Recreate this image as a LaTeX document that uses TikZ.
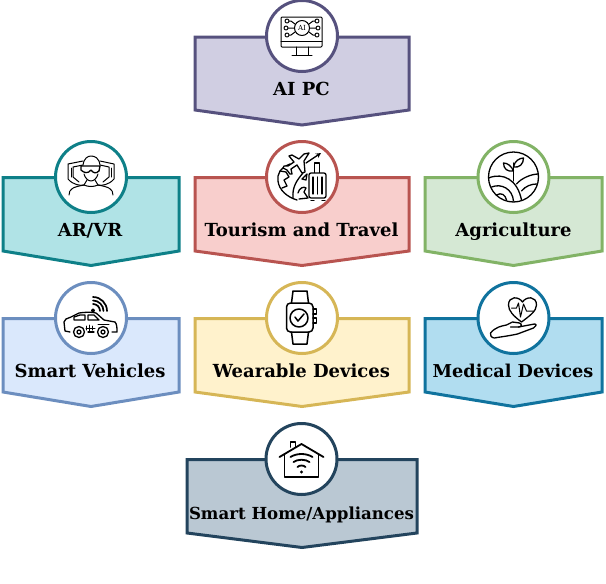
\documentclass[tikz,border=0pt]{standalone}
\usepackage{fontspec}
\setmainfont{DejaVu Serif}
\definecolor{aifill}{HTML}{D0CEE2}\definecolor{ailine}{HTML}{56517E}
\definecolor{arfill}{HTML}{B0E3E6}\definecolor{arline}{HTML}{0E8088}
\definecolor{tourfill}{HTML}{F8CECC}\definecolor{tourline}{HTML}{B85450}
\definecolor{agrifill}{HTML}{D5E8D4}\definecolor{agriline}{HTML}{82B366}
\definecolor{carfill}{HTML}{DAE8FC}\definecolor{carline}{HTML}{6C8EBF}
\definecolor{watchfill}{HTML}{FFF2CC}\definecolor{watchline}{HTML}{D6B656}
\definecolor{medfill}{HTML}{B1DDF0}\definecolor{medline}{HTML}{10739E}
\definecolor{homefill}{HTML}{BAC8D3}\definecolor{homeline}{HTML}{23445D}
\begin{document}
\begin{tikzpicture}[x=1pt, y=-1pt,
    panel/.style={line width=3pt, miter limit=4},
    badge/.style={circle, fill=white, line width=3pt, minimum size=71pt, inner sep=0pt},
    caption/.style={anchor=base, inner sep=0pt, font=\fontsize{18}{20}\selectfont\bfseries, text=black},
    icon/.style={line width=1.3pt, line join=round, line cap=round, black},
    thin icon/.style={line width=1pt, line join=round, line cap=round, black}]
    \useasboundingbox (0,0) rectangle (606,584);

    % --- Panels ---
    \draw[panel, fill=aifill, draw=ailine] (195,37) -- (409,37) -- (409,110) -- (302,125) -- (195,110) -- cycle;
    \draw[panel, fill=arfill, draw=arline] (3,177.5) -- (179,177.5) -- (179,251) -- (91,265.5) -- (3,251) -- cycle;
    \draw[panel, fill=tourfill, draw=tourline] (195,177.5) -- (409,177.5) -- (409,251) -- (302,265.5) -- (195,251) -- cycle;
    \draw[panel, fill=agrifill, draw=agriline] (425,177.5) -- (602,177.5) -- (602,251) -- (513.5,265.5) -- (425,251) -- cycle;
    \draw[panel, fill=carfill, draw=carline] (3,318.5) -- (179,318.5) -- (179,392) -- (91,406.5) -- (3,392) -- cycle;
    \draw[panel, fill=watchfill, draw=watchline] (195,318.5) -- (409,318.5) -- (409,392) -- (302,406.5) -- (195,392) -- cycle;
    \draw[panel, fill=medfill, draw=medline] (425,318.5) -- (602,318.5) -- (602,392) -- (513.5,406.5) -- (425,392) -- cycle;
    \draw[panel, fill=homefill, draw=homeline] (187,459.5) -- (417,459.5) -- (417,533) -- (302,547.5) -- (187,533) -- cycle;

    % --- Badges ---
    \node[badge, draw=ailine] (ai) at (302,36) {};
    \node[badge, draw=arline] (ar) at (91,177) {};
    \node[badge, draw=tourline] (tour) at (302,177) {};
    \node[badge, draw=agriline] (agri) at (513.5,177) {};
    \node[badge, draw=carline] (car) at (91,318) {};
    \node[badge, draw=watchline] (watch) at (302,318) {};
    \node[badge, draw=medline] (med) at (513.5,318) {};
    \node[badge, draw=homeline] (home) at (301.5,459) {};

    % --- Captions ---
    \node[caption] (ailabel) at (301.5,95) {AI PC};
    \node[caption] (arlabel) at (90,236) {AR/VR};
    \node[caption] (tourlabel) at (301.5,236) {Tourism and Travel};
    \node[caption] (agrilabel) at (513.5,236) {Agriculture};
    \node[caption] (carlabel) at (90,377) {Smart Vehicles};
    \node[caption] (watchlabel) at (301.5,377) {Wearable Devices};
    \node[caption, font=\fontsize{17.7}{20}\selectfont\bfseries] (medlabel) at (513,377) {Medical Devices};
    \node[caption, font=\fontsize{16.6}{20}\selectfont\bfseries] (homelabel) at (301.5,519) {Smart Home/Appliances};

    % --- AI PC icon ---
    \begin{scope}[shift={(302,36)}, thin icon]
        \draw[rounded corners=1pt] (-21,-19) rectangle (20,11);
        \draw (-21,5) -- (20,5);
        \draw (-6,11) -- (-6,19) (6,11) -- (6,19) (-10,19.5) -- (10,19.5);
        \draw (0,-8) circle (7.5);
        \node[inner sep=0pt, font=\fontsize{7}{7}\selectfont] (aitext) at (0,-8) {AI};
        \draw (-7,-12) -- (-11,-15) -- (-13,-15) (-7.5,-8) -- (-14,-8) (-7,-4) -- (-11,-1) -- (-13,-1);
        \draw (7,-12) -- (11,-15) -- (13,-15) (7.5,-8) -- (14,-8) (7,-4) -- (11,-1) -- (13,-1);
        \foreach \px/\py in {-15/-15, -16/-8, -15/-1, 15/-15, 16/-8, 15/-1}
            \draw (\px,\py) circle (2);
    \end{scope}

    % --- AR/VR icon ---
    \begin{scope}[shift={(91,177)}, thin icon]
        \draw (-8,-12) .. controls (-7,-19) and (-3,-21) .. (0,-21) .. controls (4,-21) and (8,-19) .. (9,-12);
        \draw[line width=1.3pt] (-10,-11) -- (9,-11) -- (8,-6) .. controls (5,-3) and (2,-4) .. (0,-7) .. controls (-3,-3) and (-7,-4) .. (-10,-7) -- cycle;
        \draw (-7,-3) .. controls (-6,1) and (-3,4) .. (0,4) .. controls (3,4) and (6,1) .. (7,-3);
        \draw (-8,-16) -- (-23,-13) -- (-23,2) .. controls (-18,8) and (-10,9) .. (-7,8);
        \draw (-8,-12) -- (-18,-10) -- (-18,0) -- (-12,5);
        \draw (9,-16) -- (23,-13) -- (23,2) .. controls (18,8) and (10,9) .. (7,8);
        \draw (9,-12) -- (18,-10) -- (18,0) -- (12,5);
        \draw (-20,-9) -- (-20,0) (20,-9) -- (20,0);
        \draw (-7,8) .. controls (-3,10) and (3,10) .. (7,8);
        \draw (-22,18) .. controls (-22,12) and (-18,10) .. (-7,8) (22,18) .. controls (22,12) and (18,10) .. (7,8);
        \draw (-4,3) -- (-7,8) (4,3) -- (7,8);
    \end{scope}

    % --- Tourism icon ---
    \begin{scope}[shift={(302,177)}, icon]
        \draw (-12,-13) .. controls (-22,-9) and (-25,-3) .. (-24,4) .. controls (-23,13) and (-15,20) .. (-5,23);
        \draw (1,-4) .. controls (-5,3) and (-10,10) .. (-9,21);
        \draw (-22,-6) -- (-16,-5) -- (-13,0) -- (-18,3) -- (-15,9) -- (-20,11);
        \draw (-4,16) .. controls (-3,11) and (2,9) .. (4,11) -- (2,15) -- (6,21) -- (-3,22);
        \draw (0,2) -- (5,-3) -- (4,3) -- cycle;
        \draw[fill=white] (7,-24) -- (2,-16) -- (3,-5) -- (0,-4) -- (-5,-12) -- (-11,-8) -- (-10,-3) -- (-12,-3) -- (-15,-7) -- (-19,-9) -- (-18,-11) -- (-14,-11) -- (-8,-15) -- (-13,-21) -- (-10,-22) -- (-3,-18) -- (2,-23) -- cycle;
        \draw[->, >=stealth] (4,-14) -- (19,-24);
        \draw (12.7,-4) -- (12.7,-14) -- (17.7,-14) -- (17.7,-4);
        \draw[rounded corners=2pt, fill=white] (7,-4) rectangle (24,21);
        \draw (11,0) -- (11,17) (15.5,0) -- (15.5,17) (20,0) -- (20,17);
        \draw (9,23.5) -- (12,23.5) (20,23.5) -- (23,23.5);
    \end{scope}

    % --- Agriculture icon ---
    \begin{scope}[shift={(513.5,177)}, icon]
        \draw (0,0) circle (25);
        \draw (0,4) -- (0,-14);
        \draw (0,-10) .. controls (1,-16) and (6,-19) .. (10,-19) .. controls (10,-13) and (6,-9) .. (0,-10);
        \draw (0,-6) .. controls (-2,-11) and (-6,-14) .. (-10,-14) .. controls (-10,-8) and (-6,-5) .. (0,-6);
        \draw (-25,1) .. controls (-10,-5) and (4,3) .. (8,23);
        \draw (-22,10) .. controls (-12,6) and (-1,12) .. (0,24);
        \draw (-17,18) .. controls (-12,15) and (-8,18) .. (-7,23);
        \draw (3,7) .. controls (8,1) and (18,-3) .. (25,-3);
        \draw (8,14) .. controls (12,9) and (18,7) .. (23,7);
    \end{scope}

    % --- Smart vehicles icon ---
    \begin{scope}[shift={(91,318)}, icon]
        \draw (-21,14) -- (-26,13) -- (-27,4) -- (-25,1) -- (-20,-1) -- (-12,-5) .. controls (-6,-6) and (2,-6) .. (5,-5) -- (13,2) -- (24,4) .. controls (26,6) and (26,10) .. (26,14) -- (21,14);
        \draw (-3,14) -- (3,14);
        \draw (-17,-1) -- (-11,-3) -- (-6,-3) -- (-6,2) -- (-17,2) -- cycle;
        \draw (-3,-3) -- (3,-3) -- (8,2) -- (-3,2) -- cycle;
        \draw (-12,14) circle (5.5) (-12,14) circle (2);
        \draw (12,14) circle (5.5) (12,14) circle (2);
        \draw[thin icon] (-5,8) -- (-5,12) (-2,7) -- (-2,13) (1,8) -- (1,12) (-5,10) -- (4,10);
        \draw[thin icon] (7,6) -- (18,6);
        \draw[fill=black] (2,-7.5) circle (1.5);
        \draw[line width=1.7pt] (2,-14) arc (-90:0:7) (2,-17.5) arc (-90:0:10.5) (2,-21) arc (-90:0:14);
    \end{scope}

    % --- Wearable icon ---
    \begin{scope}[shift={(302,318)}, icon, line width=1.5pt]
        \draw[rounded corners=4pt] (-15.5,-15) rectangle (11,14);
        \draw (-10.5,-15) -- (-9,-27) -- (5,-27) -- (6.5,-15);
        \draw (-10.5,14) -- (-9,26) -- (5,26) -- (6.5,14);
        \draw (-3,0) circle (9);
        \draw (-7,-1) -- (-4,3) -- (2,-4);
        \draw (11,-9) -- (14.5,-9) -- (14.5,-4) -- (11,-4);
        \draw (11,0) -- (14.5,0) -- (14.5,5) -- (11,5);
    \end{scope}

    % --- Medical icon ---
    \begin{scope}[shift={(513.5,318)}, icon]
        \draw (8,4) .. controls (0,-2) and (-5,-7) .. (-5,-13) .. controls (-5,-22) and (5,-22) .. (9,-16) .. controls (13,-22) and (23,-22) .. (23,-13) .. controls (23,-7) and (16,-2) .. (8,4);
        \draw[thin icon] (-2,-10) -- (3,-10) -- (5,-15) -- (7,-1) -- (10,-14) -- (13,-7) -- (20,-7);
        \draw (-23,15) .. controls (-18,9) and (-12,8) .. (-7,7) -- (-1,4) -- (6,5) .. controls (9,6) and (8,9) .. (5,9) -- (-3,9);
        \draw (5,9) -- (21,6) .. controls (24,6) and (22,9) .. (20,10) -- (4,16) .. controls (-5,18) and (-14,19) .. (-19,20) .. controls (-22,20) and (-24,17) .. (-23,15);
    \end{scope}

    % --- Smart home icon ---
    \begin{scope}[shift={(301.5,459)}, icon, line width=1.8pt]
        \draw (-22,-2) -- (0,-15) -- (22,-2);
        \draw (-17,-5) -- (-17,18) -- (17,18) -- (17,-5);
        \draw (-11,-12) -- (-11,-17) -- (-6,-17) -- (-6,-12);
        \fill (0,13) circle (1.6);
        \draw (-4,8) .. controls (-2,6) and (2,6) .. (4,8);
        \draw (-8,3) .. controls (-4,0) and (4,0) .. (8,3);
        \draw (-11,-2) .. controls (-5,-6) and (5,-6) .. (11,-2);
    \end{scope}
\end{tikzpicture}
\end{document}
